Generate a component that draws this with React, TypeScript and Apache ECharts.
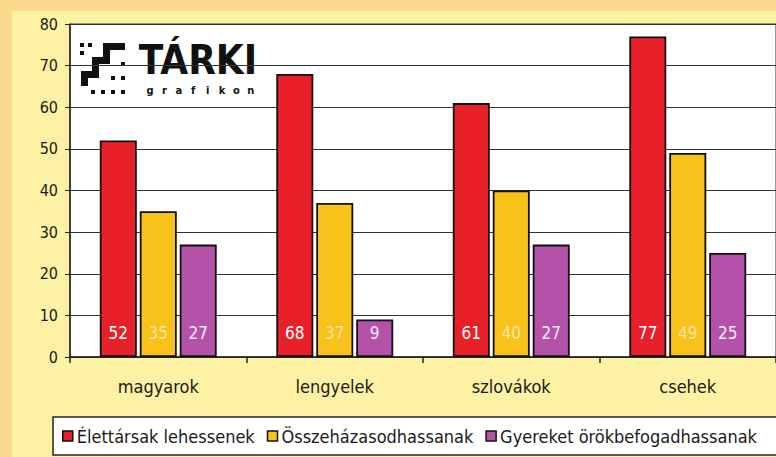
import React, { useEffect, useRef } from "react";
import * as echarts from "echarts";

const categories = ["magyarok", "lengyelek", "szlovákok", "csehek"];
const seriesNames = ["Élettársak lehessenek", "Összeházasodhassanak", "Gyereket örökbefogadhassanak"];
const elettarsak = [52, 68, 61, 77];
const osszehazasodhassanak = [35, 37, 40, 49];
const orokbefogadhassanak = [27, 9, 27, 25];
const yTicks = [0, 10, 20, 30, 40, 50, 60, 70, 80];
const logoSubtitle = "grafikon";

const colors = ["#e8202a", "#f8c21a", "#b452a9"];
const labelColors = ["#ffffff", "#f8e6a8", "#f4eaf4"];
const FONT = '"Liberation Sans Narrow", "DejaVu Sans Condensed", "Liberation Sans", sans-serif';
const LOGOFONT = '"DejaVu Sans Condensed", "DejaVu Sans", sans-serif';

export default function App() {
  const ref = useRef<HTMLDivElement>(null);
  useEffect(() => {
    const chart = echarts.init(ref.current!, null, { renderer: "svg" });
    const data = [elettarsak, osszehazasodhassanak, orokbefogadhassanak];
    const dots: any[] = [
      [82, 45], [90, 45], [82, 53], [123, 64], [113, 78], [123, 78], [103, 92], [113, 92], [123, 92], [93, 92],
    ].map(([x, y]) => ({ type: "rect", shape: { x: x - 2, y: y - 2, width: 4, height: 4 }, style: { fill: "#111" } }));
    const subLetters: any[] = logoSubtitle.split("").map((ch, i) => ({
      type: "text",
      x: 150 + i * 14.4,
      y: 90,
      style: { text: ch, font: `bold 11px ${LOGOFONT}`, fill: "#111", align: "center", verticalAlign: "middle" },
    }));
    chart.setOption({
      animation: false,
      backgroundColor: "#fcd98c",
      graphic: [
        { type: "rect", z: -10, shape: { x: 12, y: 11, width: 800, height: 460 }, style: { fill: "#fdf2a4" } },
        {
          type: "rect",
          z: -5,
          shape: { x: 53, y: 417, width: 760, height: 38 },
          style: { fill: "#ffffff", stroke: "#222", lineWidth: 1.5 },
        },
        {
          type: "group",
          z: 100,
          children: [
            { type: "rect", shape: { x: 76, y: 36, width: 181, height: 62 }, style: { fill: "#ffffff" } },
            {
              type: "polygon",
              shape: {
                points: [
                  [103, 43], [125, 43], [125, 50], [110, 50], [110, 64], [99, 64], [99, 78], [88, 78],
                  [88, 86], [81, 86], [81, 71], [92, 71], [92, 57], [103, 57],
                ],
              },
              style: { fill: "#111" },
            },
            ...dots,
            {
              type: "text",
              x: 198,
              y: 80,
              style: {
                text: "TÁRKI",
                font: `bold 40px ${LOGOFONT}`,
                fill: "#111",
                align: "center",
                verticalAlign: "bottom",
              },
            },
            ...subLetters,
          ],
        },
      ],
      grid: {
        left: 70,
        right: 0,
        top: 24,
        bottom: 100,
        show: true,
        backgroundColor: "#ffffff",
        borderColor: "#333",
        borderWidth: 1,
      },
      legend: {
        left: 53,
        top: 417,
        width: 760,
        data: seriesNames,
        padding: [10, 8, 10, 9],
        itemWidth: 10,
        itemHeight: 10,
        itemGap: 12,
        icon: "rect",
        itemStyle: { borderColor: "#111", borderWidth: 1.5 },
        textStyle: { fontFamily: FONT, fontSize: 18, color: "#1a1a1a", padding: [0, 0, 0, -1] },
      },
      xAxis: {
        type: "category",
        data: categories,
        axisLine: { lineStyle: { color: "#222", width: 1.5 } },
        axisTick: { show: true, length: 6, lineStyle: { color: "#222", width: 1.5 } },
        axisLabel: { margin: 20, fontFamily: FONT, fontSize: 18, color: "#1a1a1a" },
      },
      yAxis: {
        type: "value",
        min: yTicks[0],
        max: yTicks[yTicks.length - 1],
        interval: 10,
        axisLine: { show: true, lineStyle: { color: "#222", width: 1.5 } },
        axisTick: { show: true, length: 5, lineStyle: { color: "#222" } },
        axisLabel: { margin: 12, fontFamily: FONT, fontSize: 16, color: "#1a1a1a" },
        splitLine: { lineStyle: { color: "#333", width: 1.2 } },
      },
      series: seriesNames.map((name, i) => ({
        name,
        type: "bar",
        data: data[i],
        barWidth: 37,
        barGap: "8%",
        itemStyle: { color: colors[i], borderColor: "#111", borderWidth: 1.8 },
        label: {
          show: true,
          position: "insideBottom",
          distance: 16,
          fontFamily: FONT,
          fontSize: 17,
          color: labelColors[i],
        },
      })),
    });
    return () => chart.dispose();
  }, []);
  return <div ref={ref} style={{ position: "absolute", left: 0, top: 0, width: 776, height: 457 }} />;
}
